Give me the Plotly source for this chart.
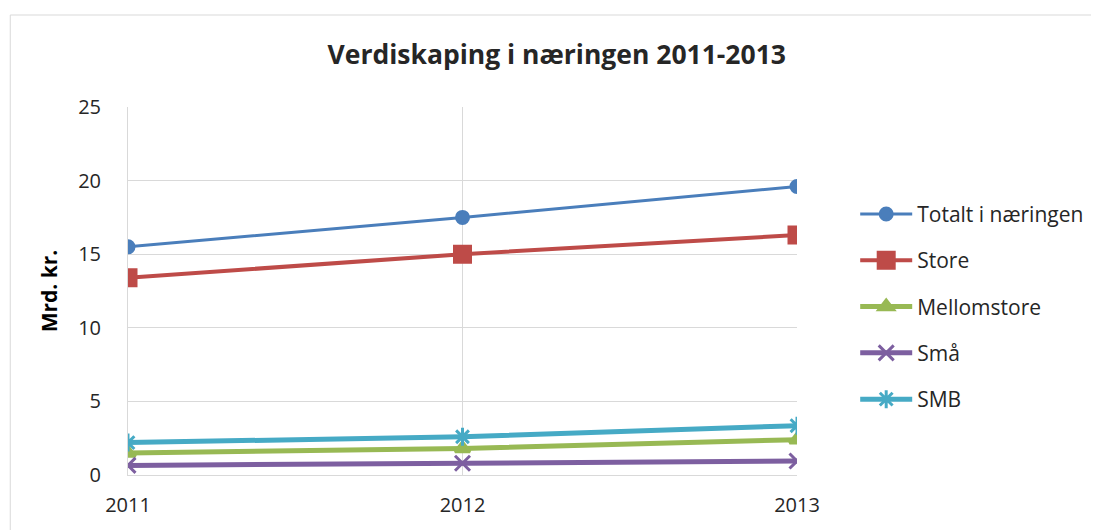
"""Verdiskaping i næringen 2011-2013 — line chart in the style of an Excel export."""

import plotly.graph_objects as go

years = ["2011", "2012", "2013"]
totalt = [15.5, 17.5, 19.6]
store = [13.4, 15.0, 16.3]
mellomstore = [1.5, 1.8, 2.4]
sma = [0.65, 0.8, 0.95]
smb = [2.2, 2.6, 3.35]

FONT = "Open Sans"
TEXT = "#262626"

series = [
    ("Totalt i næringen", totalt, "#4a7ebb", "circle", 12, 3),
    ("Store", store, "#be4b48", "square", 16, 4),
    ("Mellomstore", mellomstore, "#98b954", "triangle-up", 13, 5),
    ("Små", sma, "#7d5fa0", "x-thin-open", 15, 5),
    ("SMB", smb, "#46aac5", "asterisk-open", 15, 5),
]

fig = go.Figure()

for name, vals, color, symbol, size, width in series:
    fig.add_trace(
        go.Scatter(
            x=years,
            y=vals,
            name=name,
            legendgroup=name,
            mode="lines+markers",
            line=dict(color=color, width=width),
            marker=dict(symbol=symbol, size=size, color=color,
                        line=dict(color=color, width=3)),
        )
    )

# chart frame
fig.add_shape(
    type="rect", xref="paper", yref="paper",
    x0=-0.176, x1=1.6, y0=-0.5, y1=1.25,
    line=dict(color="#d9d9d9", width=1), fillcolor="rgba(0,0,0,0)",
    layer="below",
)

fig.update_layout(
    width=1091,
    height=522,
    paper_bgcolor="white",
    plot_bgcolor="white",
    margin=dict(l=120, r=302, t=99, b=55, autoexpand=False),
    font=dict(family=FONT, size=20, color=TEXT),
    title=dict(
        text="<b>Verdiskaping i næringen 2011-2013</b>",
        x=0.503, xanchor="center", y=0.91, yanchor="middle",
        font=dict(family=FONT, size=26.5, color=TEXT),
    ),
    showlegend=True,
    legend=dict(
        x=1.087, xanchor="left", y=0.457, yanchor="middle",
        font=dict(family=FONT, size=21, color=TEXT),
        tracegroupgap=16, itemwidth=52,
        bgcolor="rgba(0,0,0,0)",
    ),
)

fig.update_xaxes(
    type="category",
    range=[0, 2],
    automargin=False,
    showgrid=True, gridcolor="#d9d9d9", gridwidth=1,
    showline=True, linecolor="#d9d9d9", linewidth=1,
    ticks="", tickfont=dict(size=20, color=TEXT),
    ticklabelstandoff=12,
    zeroline=False,
)

fig.update_yaxes(
    range=[0, 25],
    dtick=5,
    automargin=False,
    showgrid=True, gridcolor="#d9d9d9", gridwidth=1,
    showline=True, linecolor="#d9d9d9", linewidth=1,
    ticks="", tickfont=dict(size=20, color=TEXT),
    ticklabelstandoff=22,
    zeroline=False,
    title=dict(text="<b>Mrd. kr.</b>", font=dict(size=21, color="#000000"), standoff=14),
)

fig.write_html("out.html")
